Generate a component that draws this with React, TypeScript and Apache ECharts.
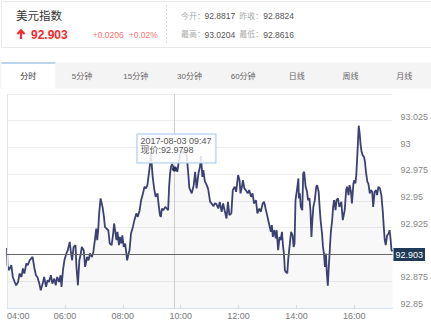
import { useEffect, useRef } from 'react';
import * as echarts from 'echarts';

const title = '美元指数';
const lastPrice = 92.903;
const changeText = '+0.0206';
const changePct = '+0.02%';
const openPrice = '92.8817';
const prevClose = '92.8824';
const highPrice = '93.0204';
const lowPrice = '92.8616';
const tabs = ['分时', '5分钟', '15分钟', '30分钟', '60分钟', '日线', '周线', '月线'];

const hoverDate = '2017-08-03';
const hoverTime = '09:47';
const hoverPrice = 92.9798;

const axisStart = '04:00';
const axisEnd = '17:19';

const times = [
  '04:00','04:01','04:04','04:09','04:12','04:16','04:19','04:23','04:26','04:30','04:33','04:36','04:40','04:43','04:47','04:50','04:53','04:57',
  '05:00','05:03','05:07','05:10','05:14','05:17','05:21','05:24','05:27','05:31','05:34','05:38','05:41','05:44','05:48','05:51','05:53','05:56','05:59',
  '06:03','06:06','06:10','06:12','06:15','06:18','06:22','06:24','06:27','06:30','06:33','06:35','06:39','06:42','06:46','06:49','06:52','06:56','06:59',
  '07:03','07:05','07:07','07:09','07:11','07:14','07:18','07:21','07:23','07:26','07:30','07:33','07:37','07:40','07:42','07:45','07:47','07:49','07:52','07:54','07:57','07:59',
  '08:02','08:05','08:09','08:12','08:14','08:17','08:21','08:24','08:28','08:31','08:35','08:38','08:41','08:45','08:48','08:51','08:55','08:57','08:58',
  '09:02','09:05','09:08','09:12','09:14','09:17','09:19','09:21','09:24','09:28','09:31','09:34','09:36','09:38','09:40','09:42','09:47','09:49','09:53','09:56','09:59',
  '10:03','10:06','10:10','10:13','10:16','10:18','10:20','10:23','10:27','10:30','10:33','10:37','10:40','10:42','10:45','10:47','10:50','10:54','10:57',
  '11:01','11:04','11:08','11:11','11:14','11:18','11:21','11:25','11:28','11:31','11:35','11:38','11:41','11:45','11:48','11:52','11:55','11:59',
  '12:02','12:04','12:07','12:09','12:12','12:15','12:19','12:22','12:26','12:29','12:32','12:36','12:39','12:43','12:46','12:50','12:53','12:56',
  '13:00','13:03','13:07','13:09','13:11','13:14','13:17','13:19','13:22','13:25','13:27','13:30','13:32','13:34','13:36','13:38','13:41','13:43','13:47','13:49','13:52','13:54','13:56','13:58',
  '14:01','14:04','14:05','14:07','14:09','14:12','14:14','14:16','14:19','14:22','14:24','14:27','14:29','14:31','14:33','14:35','14:38','14:41','14:43','14:46','14:48','14:50','14:53','14:55','14:57','14:59',
  '15:01','15:03','15:05','15:07','15:09','15:11','15:14','15:16','15:18','15:21','15:23','15:26','15:29','15:33','15:36','15:40','15:43','15:45','15:48','15:50','15:53','15:55','15:58',
  '16:00','16:02','16:04','16:07','16:09','16:11','16:13','16:15','16:17','16:20','16:22','16:24','16:27','16:29','16:32','16:34','16:37','16:39','16:42','16:45','16:47','16:50','16:53','16:56','16:59',
  '17:01','17:03','17:05','17:08','17:11','17:13','17:15','17:17','17:19',
];

const prices = [
  92.9062,92.8900,92.8853,92.8900,92.8790,92.8743,92.8712,92.8743,92.8822,92.8790,92.8869,92.8822,92.8916,92.8900,92.8946,92.8962,92.8977,92.8869,
  92.8806,92.8790,92.8728,92.8666,92.8728,92.8790,92.8697,92.8759,92.8743,92.8806,92.8728,92.8775,92.8712,92.8790,92.8743,92.8806,92.8697,92.8853,92.8946,
  92.9009,92.9040,92.9118,92.9040,92.8946,92.9071,92.9087,92.8884,92.8712,92.8946,92.9009,92.9071,92.9040,92.8884,92.8977,92.8946,92.9009,92.8977,92.9024,
  92.9165,92.9243,92.9134,92.9227,92.9384,92.9524,92.9445,92.9352,92.9258,92.9243,92.9227,92.9103,92.9087,92.9196,92.9290,92.9196,92.9134,92.9211,92.9087,92.9165,92.9103,92.9180,
  92.9071,92.9103,92.8946,92.9009,92.9040,92.9196,92.9258,92.9321,92.9384,92.9352,92.9414,92.9508,92.9555,92.9633,92.9618,92.9648,92.9789,92.9867,92.9957,
  92.9726,92.9618,92.9539,92.9571,92.9477,92.9368,92.9352,92.9430,92.9414,92.9445,92.9430,92.9414,92.9633,92.9758,92.9820,92.9845,92.9798,92.9820,92.9773,92.9867,92.9945,
  92.9960,92.9948,92.9976,92.9901,92.9742,92.9620,92.9602,92.9571,92.9648,92.9773,92.9618,92.9761,92.9820,92.9920,92.9726,92.9789,92.9686,92.9648,92.9611,
  92.9492,92.9477,92.9452,92.9480,92.9471,92.9430,92.9492,92.9399,92.9477,92.9414,92.9337,92.9492,92.9368,92.9384,92.9602,92.9633,92.9586,92.9742,
  92.9695,92.9571,92.9633,92.9695,92.9618,92.9602,92.9571,92.9602,92.9539,92.9571,92.9477,92.9508,92.9384,92.9430,92.9399,92.9477,92.9492,92.9430,
  92.9352,92.9290,92.9211,92.9274,92.9165,92.9227,92.9150,92.9227,92.9040,92.9165,92.9134,92.9211,92.9087,92.9009,92.8853,92.8837,92.8825,92.8962,92.9134,92.9211,92.9180,92.9071,92.9103,92.9508,
  92.9602,92.9711,92.9524,92.9571,92.9445,92.9414,92.9758,92.9773,92.9633,92.9586,92.9508,92.9524,92.9414,92.9165,92.9321,92.9445,92.9508,92.9633,92.9648,92.9586,92.9445,92.9321,92.9196,92.9071,92.9009,92.8884,
  92.9009,92.8822,92.8708,92.8884,92.9040,92.9196,92.9321,92.9445,92.9508,92.9414,92.9508,92.9524,92.9445,92.9492,92.9321,92.9414,92.9602,92.9633,92.9555,92.9648,92.9586,92.9477,92.9664,
  92.9695,92.9664,92.9742,93.0007,93.0204,93.0132,93.0023,92.9960,92.9929,92.9913,92.9867,92.9773,92.9679,92.9664,92.9571,92.9602,92.9586,92.9445,92.9586,92.9602,92.9555,92.9633,92.9618,92.9555,92.9399,
  92.9258,92.9134,92.9087,92.9180,92.9196,92.9227,92.9150,92.9040,92.9030,
];

const yMin = 92.85;
const yMax = 93.05;
const yStep = 0.025;
const yLabelHiddenUnderTag = 92.9;
const xStepMinutes = 120;

const FONT = 'Arial, "Liberation Sans", "Noto Sans CJK SC", sans-serif';

const toMin = (t: string) => {
  const [h, m] = t.split(':').map(Number);
  return h * 60 + m;
};
const toHHMM = (v: number) => {
  const h = Math.floor(v / 60);
  const m = Math.round(v - h * 60);
  return `${String(h).padStart(2, '0')}:${String(m).padStart(2, '0')}`;
};

export default function App() {
  const ref = useRef<HTMLDivElement>(null);

  useEffect(() => {
    document.body.style.margin = '0';
    if (!ref.current) return;
    const chart = echarts.init(ref.current, undefined, { renderer: 'svg' });

    const tabW = 53.7;
    const tabX0 = 1.5;
    const graphic: any[] = [
      { type: 'rect', shape: { x: 1.5, y: 1.5, width: 440, height: 46 }, style: { fill: '#fff', stroke: '#e9e9e9', lineWidth: 1 }, silent: true },
      { type: 'text', style: { text: title, x: 16, y: 16, fill: '#333', fontSize: 11.5, fontFamily: FONT, verticalAlign: 'middle' } },
      { type: 'polyline', shape: { points: [[21, 39], [21, 30.5]] }, style: { stroke: '#f52a2a', lineWidth: 2.2, fill: 'none' } },
      { type: 'polyline', shape: { points: [[17.4, 34], [21, 30.4], [24.6, 34]] }, style: { stroke: '#f52a2a', lineWidth: 2.2, fill: 'none' } },
      { type: 'text', style: { text: lastPrice.toFixed(3), x: 31, y: 34.5, fill: '#f52a2a', fontSize: 12, fontWeight: 'bold', fontFamily: FONT, verticalAlign: 'middle' } },
      { type: 'text', style: { text: changeText, x: 92.7, y: 34.5, fill: '#f67272', fontSize: 8.5, fontFamily: FONT, verticalAlign: 'middle' } },
      { type: 'text', style: { text: changePct, x: 128.7, y: 34.5, fill: '#f67272', fontSize: 8.5, fontFamily: FONT, verticalAlign: 'middle' } },
      { type: 'line', shape: { x1: 166.5, y1: 5, x2: 166.5, y2: 43 }, style: { stroke: '#dddddd', lineWidth: 1, lineDash: [2, 2] } },
      { type: 'text', style: { text: '今开：', x: 181, y: 16, fill: '#aaaaaa', fontSize: 8, fontFamily: FONT, verticalAlign: 'middle' } },
      { type: 'text', style: { text: openPrice, x: 204.5, y: 16, fill: '#555', fontSize: 8.5, fontFamily: FONT, verticalAlign: 'middle' } },
      { type: 'text', style: { text: '昨收：', x: 239.3, y: 16, fill: '#aaaaaa', fontSize: 8, fontFamily: FONT, verticalAlign: 'middle' } },
      { type: 'text', style: { text: prevClose, x: 263.3, y: 16, fill: '#555', fontSize: 8.5, fontFamily: FONT, verticalAlign: 'middle' } },
      { type: 'text', style: { text: '最高：', x: 181, y: 34.5, fill: '#aaaaaa', fontSize: 8, fontFamily: FONT, verticalAlign: 'middle' } },
      { type: 'text', style: { text: highPrice, x: 204.5, y: 34.5, fill: '#555', fontSize: 8.5, fontFamily: FONT, verticalAlign: 'middle' } },
      { type: 'text', style: { text: '最低：', x: 239.3, y: 34.5, fill: '#aaaaaa', fontSize: 8, fontFamily: FONT, verticalAlign: 'middle' } },
      { type: 'text', style: { text: lowPrice, x: 263.3, y: 34.5, fill: '#555', fontSize: 8.5, fontFamily: FONT, verticalAlign: 'middle' } },
      { type: 'rect', shape: { x: 0, y: 62.5, width: 431, height: 26 }, style: { fill: '#f4f4f4' }, silent: true },
      { type: 'rect', shape: { x: tabX0, y: 62.5, width: tabW, height: 26 }, style: { fill: '#fff' }, silent: true },
      { type: 'line', shape: { x1: tabX0, y1: 63, x2: tabX0 + tabW, y2: 63 }, style: { stroke: '#7aaee0', lineWidth: 1.2 } },
      ...tabs.map((t, i) => ({
        type: 'text',
        style: {
          text: t,
          x: tabX0 + tabW * (i + 0.5),
          y: 76.5,
          fill: i === 0 ? '#333' : '#666',
          fontSize: 8,
          fontFamily: FONT,
          align: 'center',
          verticalAlign: 'middle',
        },
      })),
    ];

    chart.setOption({
      animation: false,
      textStyle: { fontFamily: FONT },
      graphic,
      grid: { left: 7, right: 33, top: 94, bottom: 14, containLabel: false },
      xAxis: {
        type: 'value',
        min: toMin(axisStart),
        max: toMin(axisEnd),
        interval: xStepMinutes,
        axisLine: { show: true, lineStyle: { color: '#d3e1ee', width: 1 } },
        axisTick: { show: true, inside: true, length: 3, lineStyle: { color: '#e2e2e2' } },
        splitLine: { show: false },
        axisLabel: {
          formatter: (v: number) => toHHMM(v),
          color: '#777',
          fontSize: 9,
          margin: 3,
          showMaxLabel: false,
          alignMinLabel: 'left',
        },
      },
      yAxis: {
        type: 'value',
        position: 'right',
        min: yMin,
        max: yMax,
        interval: yStep,
        axisLine: { show: false },
        axisTick: { show: false },
        splitLine: { show: true, lineStyle: { color: '#ededed', width: 1 } },
        axisLabel: {
          formatter: (v: number) => (Math.abs(v - yLabelHiddenUnderTag) < 1e-6 ? '' : String(+v.toFixed(3))),
          color: '#888',
          fontSize: 9,
          margin: 8,
          verticalAlign: 'bottom',
          lineHeight: 8,
          showMaxLabel: false,
        },
      },
      series: [
        {
          type: 'line',
          data: times.map((t, i) => [toMin(t), prices[i]]),
          showSymbol: false,
          symbol: 'none',
          lineStyle: { color: '#3b4173', width: 1.8 },
          areaStyle: { color: 'rgba(0,0,0,0.04)', origin: 'start' },
          markLine: {
            silent: true,
            symbol: 'none',
            animation: false,
            data: [
              { xAxis: toMin(axisStart), lineStyle: { color: '#e6e6e6', type: 'solid', width: 1 }, label: { show: false } },
              { xAxis: toMin(hoverTime), lineStyle: { color: '#cccccc', type: 'solid', width: 1 }, label: { show: false } },
              {
                yAxis: lastPrice,
                lineStyle: { color: '#666', type: 'solid', width: 1 },
                label: {
                  show: true,
                  position: 'end',
                  distance: 1,
                  formatter: lastPrice.toFixed(3),
                  color: '#fff',
                  fontSize: 9,
                  backgroundColor: '#1f3b57',
                  padding: [3, 2, 1, 2],
                },
              },
            ],
          },
          markPoint: {
            silent: true,
            animation: false,
            data: [
              {
                coord: [toMin(hoverTime), hoverPrice],
                symbol: 'circle',
                symbolSize: 5,
                itemStyle: { color: '#2b3152' },
                label: {
                  show: true,
                  position: 'top',
                  distance: 4,
                  align: 'left',
                  offset: [-37, 0],
                  formatter: `${hoverDate} ${hoverTime}\n现价:${hoverPrice}`,
                  color: '#555',
                  fontSize: 9,
                  lineHeight: 9,
                  backgroundColor: 'rgba(255,255,255,0.85)',
                  borderColor: '#a9c9e9',
                  borderWidth: 1,
                  padding: [2, 4, 8, 3],
                },
              },
            ],
          },
        },
      ],
    });

    return () => chart.dispose();
  }, []);

  return <div ref={ref} style={{ width: 431, height: 322 }} />;
}
